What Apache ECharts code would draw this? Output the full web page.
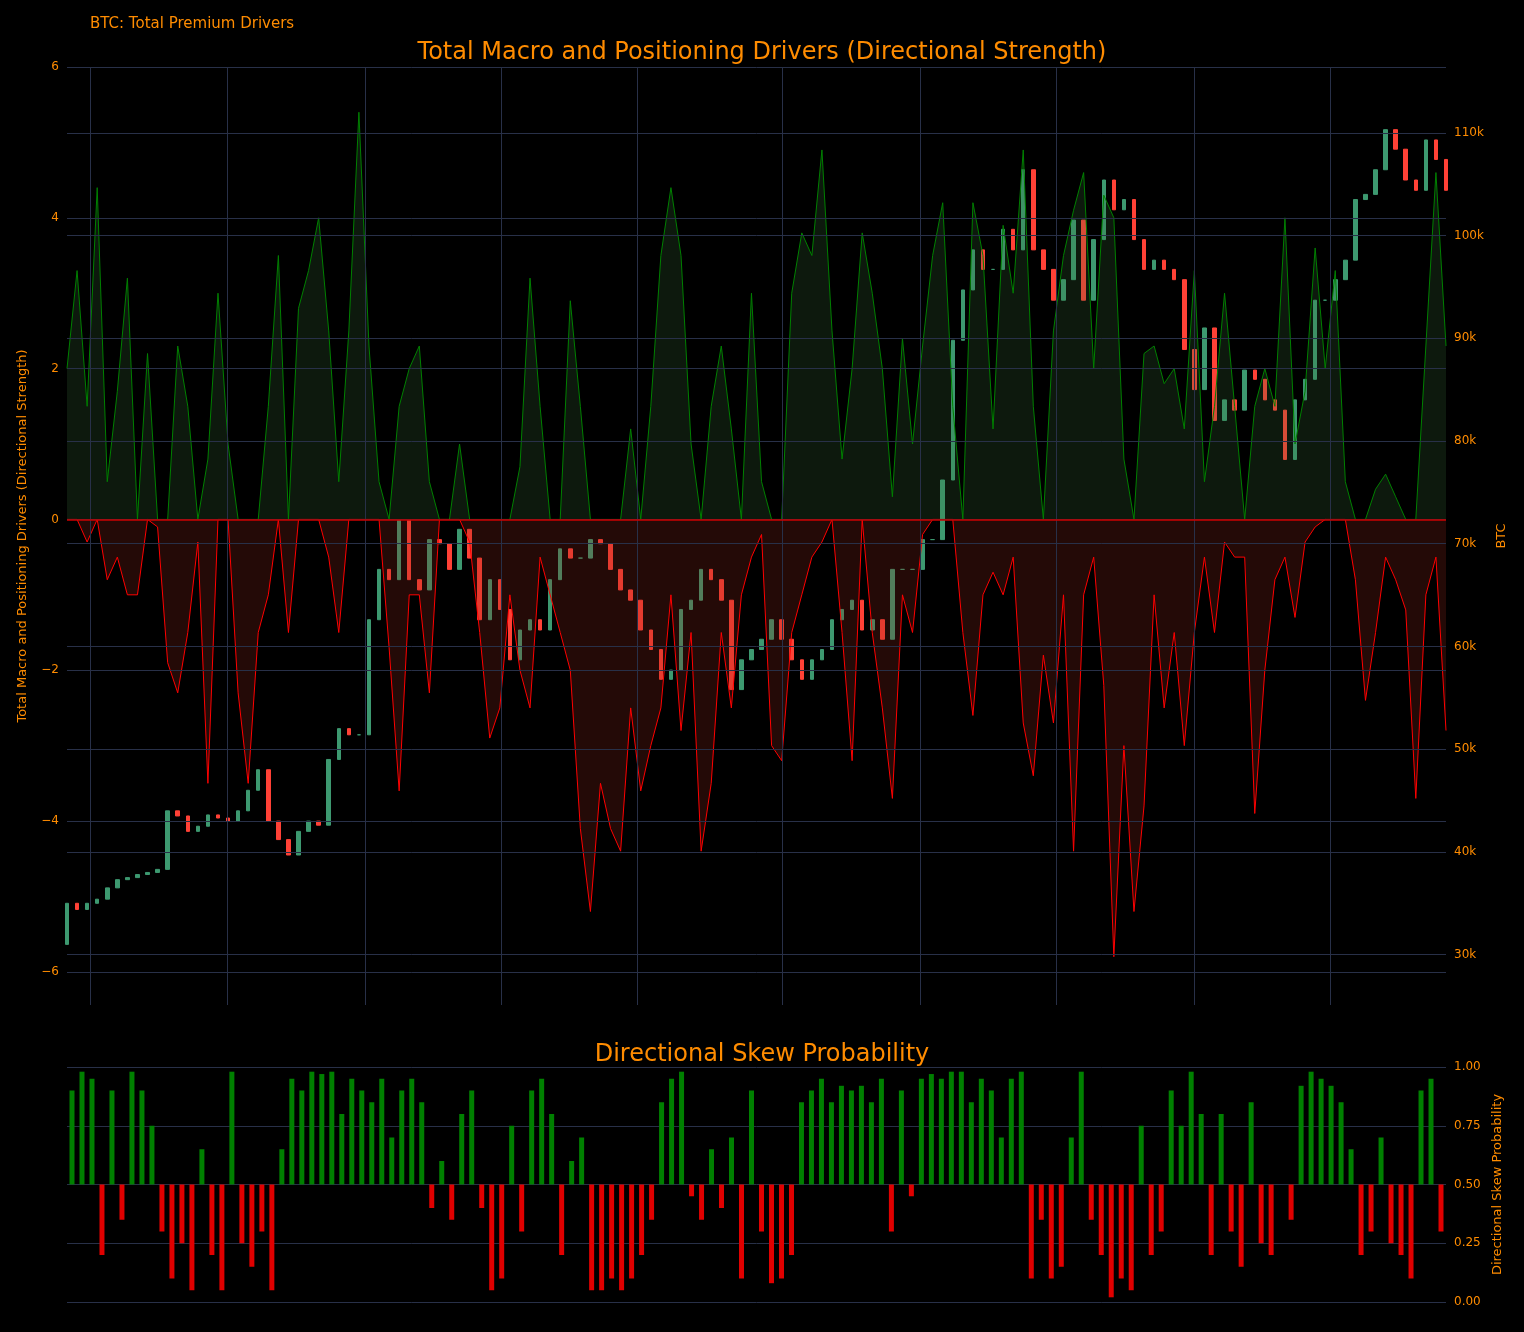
<!DOCTYPE html>
<html>
<head>
<meta charset="utf-8">
<script src="https://cdn.jsdelivr.net/npm/echarts@6/dist/echarts.min.js"></script>
<style>html,body{margin:0;background:#000;}#main{width:1524px;height:1332px;}</style>
</head>
<body>
<div id="main"></div>
<script>
// BTC closes (k USD), one sample per ~4.5 days
var btcClose = [35,34.4,35,35.4,36.5,37.3,37.5,37.8,38,38.3,44,43.5,42,42.5,43.6,43.3,43,44,46,48,
  43,41.2,39.7,42,43,42.6,49,52,51.4,51.4,62.6,67.5,66.5,72.3,66.5,65.5,70.4,70,67.5,71.4,
  68.6,62.6,66.5,63.6,58.7,61.6,62.6,61.6,66.5,69.5,68.6,68.6,70.4,70,67.5,65.5,64.5,61.6,59.7,56.8,
  57.7,63.6,64.5,67.5,66.5,64.5,55.8,58.7,59.7,60.7,62.6,60.7,58.7,56.8,58.7,59.7,62.6,63.6,64.5,61.6,
  62.6,60.7,67.5,67.5,67.5,70.4,70.4,76.2,89.8,94.7,98.6,96.7,96.7,100.6,98.6,106.4,98.6,96.7,93.7,95.7,
  101.5,93.7,99.6,105.4,102.5,103.5,99.6,96.7,97.6,96.7,95.7,88.9,85,91,82,84,83,86.9,86,84,
  83,78.2,84,86,93.7,93.7,95.7,97.6,103.5,104,106.4,110.3,108.4,105.4,104.4,109.3,107.4,104.4];
var btcOpen0 = 31;

// Directional strength, positive and negative parts
var posDrivers = [2,3.3,1.5,4.4,0.5,1.7,3.2,0,2.2,0,0,2.3,1.5,0,0.8,3,1,0,0,0,
  1.5,3.5,0,2.8,3.3,4,2.5,0.5,2.5,5.4,2.3,0.5,0,1.5,2,2.3,0.5,0,0,1,
  0,0,0,0,0,0.7,3.2,1.5,0,0,2.9,1.5,0,0,0,0,1.2,0,1.5,3.5,
  4.4,3.5,1,0,1.5,2.3,1.2,0,3,0.5,0,0,3,3.8,3.5,4.9,2.5,0.8,2,3.8,
  3,2,0.3,2.4,1,2.3,3.5,4.2,1.5,0,4.2,3.5,1.2,3.9,3,4.9,1.5,0,2.5,3.5,
  4.1,4.6,2,4.3,4,0.8,0,2.2,2.3,1.8,2,1.2,3.3,0.5,1.5,3,1.5,0,1.5,2,
  1.5,4,1,1.7,3.6,2,3.3,0.5,0,0,0.4,0.6,0.3,0,0,2.3,4.6,2.3];
var negDrivers = [0,0,-0.3,0,-0.8,-0.5,-1,-1,0,-0.1,-1.9,-2.3,-1.5,-0.3,-3.5,0,0,-2.3,-3.5,-1.5,
  -1,0,-1.5,0,0,0,-0.5,-1.5,0,0,0,0,-1.7,-3.6,-1,-1,-2.3,0,0,0,
  -0.3,-1.5,-2.9,-2.5,-1,-2,-2.5,-0.5,-1,-1.5,-2,-4.1,-5.2,-3.5,-4.1,-4.4,-2.5,-3.6,-3,-2.5,
  -1,-2.8,-1.5,-4.4,-3.5,-1.5,-2.5,-1,-0.5,-0.2,-3,-3.2,-1.5,-1,-0.5,-0.3,0,-1.5,-3.2,0,
  -1.5,-2.5,-3.7,-1,-1.5,-0.2,0,0,0,-1.5,-2.6,-1,-0.7,-1,-0.5,-2.7,-3.4,-1.8,-2.7,-1,
  -4.4,-1,-0.5,-2.2,-5.8,-3,-5.2,-3.8,-1,-2.5,-1.5,-3,-1.5,-0.5,-1.5,-0.3,-0.5,-0.5,-3.9,-2,
  -0.8,-0.5,-1.3,-0.3,-0.1,0,0,0,-0.8,-2.4,-1.5,-0.5,-0.8,-1.2,-3.7,-1,-0.5,-2.8];

// Directional skew probability
var skewProb = [0.9,0.98,0.95,0.2,0.9,0.35,0.98,0.9,0.75,0.3,0.1,0.25,0.05,0.65,0.2,0.05,0.98,0.25,0.15,0.3,
  0.05,0.65,0.95,0.9,0.98,0.97,0.98,0.8,0.95,0.9,0.85,0.95,0.7,0.9,0.95,0.85,0.4,0.6,0.35,0.8,
  0.9,0.4,0.05,0.1,0.75,0.3,0.9,0.95,0.8,0.2,0.6,0.7,0.05,0.05,0.1,0.05,0.1,0.2,0.35,0.85,
  0.95,0.98,0.45,0.35,0.65,0.4,0.7,0.1,0.9,0.3,0.08,0.1,0.2,0.85,0.9,0.95,0.85,0.92,0.9,0.92,
  0.85,0.95,0.3,0.9,0.45,0.95,0.97,0.95,0.98,0.98,0.85,0.95,0.9,0.7,0.95,0.98,0.1,0.35,0.1,0.15,
  0.7,0.98,0.35,0.2,0.02,0.1,0.05,0.75,0.2,0.3,0.9,0.75,0.98,0.8,0.2,0.8,0.3,0.15,0.85,0.25,
  0.2,0.5,0.35,0.92,0.98,0.95,0.92,0.85,0.65,0.2,0.3,0.7,0.25,0.2,0.1,0.9,0.95,0.3];

var leftTicks = [-6,-4,-2,0,2,4,6];
var rightTicks = [30000,40000,50000,60000,70000,80000,90000,100000,110000];
var monthLines = [2.3,15.9,29.6,43.1,56.7,71.1,84.8,98.3,112,125.5];

var N = btcClose.length;
var cats = [];
for (var i = 0; i < N; i++) cats.push(i);

var candles = [];
var prev = btcOpen0;
btcClose.forEach(function (c) {
  var o = prev;
  candles.push([o * 1000, c * 1000, Math.min(o, c) * 1000, Math.max(o, c) * 1000]);
  prev = c;
});

var skewBars = skewProb.map(function (p) {
  return { value: p - 0.5, itemStyle: { color: p >= 0.5 ? '#008000' : '#e00000' } };
});

var gridColor = '#283048';
var orange = '#ff8c00';
var font = 'DejaVu Sans';

var myChart = echarts.init(document.getElementById('main'));
var option = {
  backgroundColor: '#000',
  animation: false,
  textStyle: { fontFamily: font },
  title: [
    { text: 'BTC: Total Premium Drivers', left: 85, top: 12, textStyle: { color: orange, fontSize: 15, fontWeight: 'normal', fontFamily: font } },
    { text: 'Total Macro and Positioning Drivers (Directional Strength)', left: 'center', top: 36, textStyle: { color: orange, fontSize: 24, fontWeight: 'normal', fontFamily: font } },
    { text: 'Directional Skew Probability', left: 'center', top: 1038, textStyle: { color: orange, fontSize: 24, fontWeight: 'normal', fontFamily: font } }
  ],
  grid: [
    { left: 67, right: 78, top: 67, bottom: 327 },
    { left: 67, right: 78, top: 1067, bottom: 30 }
  ],
  xAxis: [
    { type: 'category', gridIndex: 0, data: cats, boundaryGap: false, show: false },
    { type: 'value', gridIndex: 0, min: 0, max: N - 1, show: false },
    { type: 'category', gridIndex: 1, data: cats, show: false }
  ],
  yAxis: [
    { type: 'value', gridIndex: 0, min: -6.44, max: 6, position: 'left',
      name: 'Total Macro and Positioning Drivers (Directional Strength)', nameLocation: 'middle', nameGap: 38,
      nameTextStyle: { color: orange, fontSize: 13 },
      axisLine: { show: false }, axisTick: { show: false }, splitLine: { show: false },
      axisLabel: { color: orange, fontSize: 12, customValues: leftTicks, formatter: function (v) { return v < 0 ? '\u2212' + (-v) : v; } } },
    { type: 'value', gridIndex: 0, min: 25100, max: 116400, position: 'right',
      name: 'BTC', nameLocation: 'middle', nameGap: 48, nameTextStyle: { color: orange, fontSize: 13 },
      axisLine: { show: false }, axisTick: { show: false }, splitLine: { show: false },
      axisLabel: { color: orange, fontSize: 12, customValues: rightTicks, formatter: function (v) { return (v / 1000) + 'k'; } } },
    { type: 'value', gridIndex: 1, min: -0.5, max: 0.5, interval: 0.25, position: 'right',
      name: 'Directional Skew Probability', nameLocation: 'middle', nameGap: 45, nameTextStyle: { color: orange, fontSize: 13 },
      axisLine: { show: false }, axisTick: { show: false },
      splitLine: { lineStyle: { color: gridColor } },
      axisLabel: { color: orange, fontSize: 12, formatter: function (v) { return (v + 0.5).toFixed(2); } } }
  ],
  series: [
    { type: 'line', xAxisIndex: 1, yAxisIndex: 0, data: [], silent: true,
      markLine: { symbol: 'none', silent: true, label: { show: false }, lineStyle: { color: gridColor, type: 'solid', width: 1 },
        data: leftTicks.map(function (t) { return { yAxis: t }; }).concat(monthLines.map(function (m) { return { xAxis: m }; })) } },
    { type: 'line', xAxisIndex: 1, yAxisIndex: 1, data: [], silent: true,
      markLine: { symbol: 'none', silent: true, label: { show: false }, lineStyle: { color: gridColor, type: 'solid', width: 1 },
        data: rightTicks.map(function (t) { return { yAxis: t }; }) } },
    { name: 'pos', type: 'line', xAxisIndex: 0, yAxisIndex: 0, data: posDrivers, symbol: 'none',
      lineStyle: { color: '#008000', width: 1 }, areaStyle: { color: 'rgba(60,120,60,0.3)' } },
    { name: 'neg', type: 'line', xAxisIndex: 0, yAxisIndex: 0, data: negDrivers, symbol: 'none',
      lineStyle: { color: '#ff0000', width: 1 }, areaStyle: { color: 'rgba(150,40,30,0.35)' },
      markLine: { symbol: 'none', silent: true, label: { show: false }, lineStyle: { color: '#cc0000', type: 'solid', width: 1.5 }, data: [{ yAxis: 0 }] } },
    { name: 'BTC', type: 'candlestick', xAxisIndex: 0, yAxisIndex: 1, data: candles, barWidth: 4,
      itemStyle: { color: '#3d9970', color0: '#ff4136', borderColor: '#3d9970', borderColor0: '#ff4136' } },
    { name: 'skew', type: 'bar', xAxisIndex: 2, yAxisIndex: 2, data: skewBars, barWidth: '50%' }
  ]
};
myChart.setOption(option);
</script>
</body>
</html>
